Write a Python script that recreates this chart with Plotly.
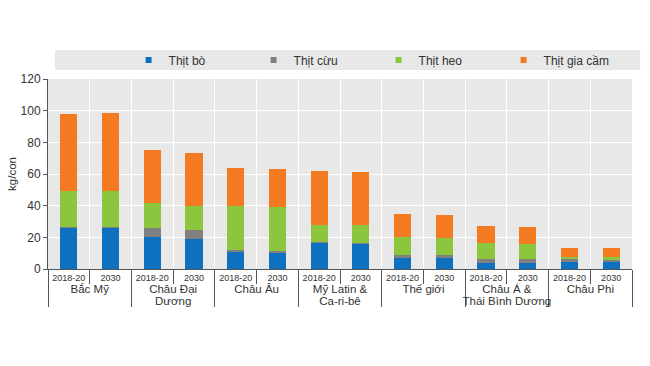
import plotly.graph_objects as go

groups = ["Bắc Mỹ", "Châu Đại<br>Dương", "Châu Âu", "Mỹ Latin &<br>Ca-ri-bê",
          "Thế giới", "Châu Á &<br>Thái Bình Dương", "Châu Phi"]
periods = ["2018-20", "2030"]

beef    = [26.1, 26.1, 20.4, 18.7, 10.5, 10.1, 16.6, 16.0, 6.9, 6.9, 4.0, 4.0, 4.2, 4.2]
sheep   = [0.4, 0.4, 5.7, 5.7, 1.5, 1.5, 0.5, 0.5, 1.7, 1.7, 2.1, 2.1, 2.1, 2.1]
pork    = [22.5, 22.9, 15.4, 15.4, 27.8, 27.8, 11.0, 11.1, 11.6, 10.8, 10.5, 9.7, 1.5, 1.1]
poultry = [48.7, 48.9, 33.7, 33.3, 24.0, 24.0, 33.5, 33.9, 14.5, 14.7, 10.6, 10.9, 5.7, 5.7]

series = [("Thịt bò", beef, "#0e71c0"),
          ("Thịt cừu", sheep, "#808080"),
          ("Thịt heo", pork, "#8cc63e"),
          ("Thịt gia cầm", poultry, "#f47a21")]

group_labels = ['<span style="font-size:11.5px">' + g.replace("<br>", '</span><br><span style="font-size:11.5px">') + '</span>'
                for g in groups]
xg = [g for g in group_labels for _ in periods]
xp = [p for _ in groups for p in periods]

fig = go.Figure()
for name, vals, col in series:
    fig.add_trace(go.Bar(x=[xg, xp], y=vals, name=name, marker_color=col,
                         marker_line_width=0, showlegend=False))
for name, vals, col in series:
    fig.add_trace(go.Scatter(x=[None], y=[None], mode="markers", name=name,
                             marker=dict(symbol="square", size=6, color=col)))

fig.update_layout(
    width=650, height=366,
    barmode="stack", bargap=0.59,
    margin=dict(l=48, r=18, t=79, b=97),
    paper_bgcolor="white", plot_bgcolor="#e8e8e8",
    font=dict(family="Liberation Sans, Arial, sans-serif", size=11, color="#333333"),
    legend=dict(orientation="h", traceorder="normal", x=0.138, xanchor="left",
                y=1.1, yanchor="middle",
                bgcolor="rgba(0,0,0,0)", font=dict(size=12, color="#333333"),
                entrywidth=80, entrywidthmode="pixels", itemclick=False),
    shapes=[dict(type="rect", xref="paper", yref="paper", x0=0.012, x1=1.014,
                 y0=1.047, y1=1.153, fillcolor="#e8e8e8", line_width=0, layer="below")],
)
fig.update_xaxes(type="multicategory", showgrid=True, gridcolor="white", gridwidth=1,
                 tickson="boundaries", ticks="outside", ticklen=14, tickcolor="#555555",
                 tickangle=0,
                 showline=True, linecolor="#555555", linewidth=1,
                 showdividers=True, dividercolor="#555555", dividerwidth=1,
                 tickfont=dict(size=9, color="#333333"))
fig.update_yaxes(range=[0, 120], dtick=20, showgrid=True, gridcolor="white", gridwidth=1,
                 ticks="outside", ticklen=4, tickcolor="#555555",
                 showline=True, linecolor="#555555", linewidth=1, automargin=False,
                 zeroline=False, tickfont=dict(size=12, color="#333333"),
                 title=dict(text="kg/con", font=dict(size=11.5, color="#333333"), standoff=1))

fig.write_html("out.html", config={"displayModeBar": False},
               post_script="document.body.style.margin='0';")
